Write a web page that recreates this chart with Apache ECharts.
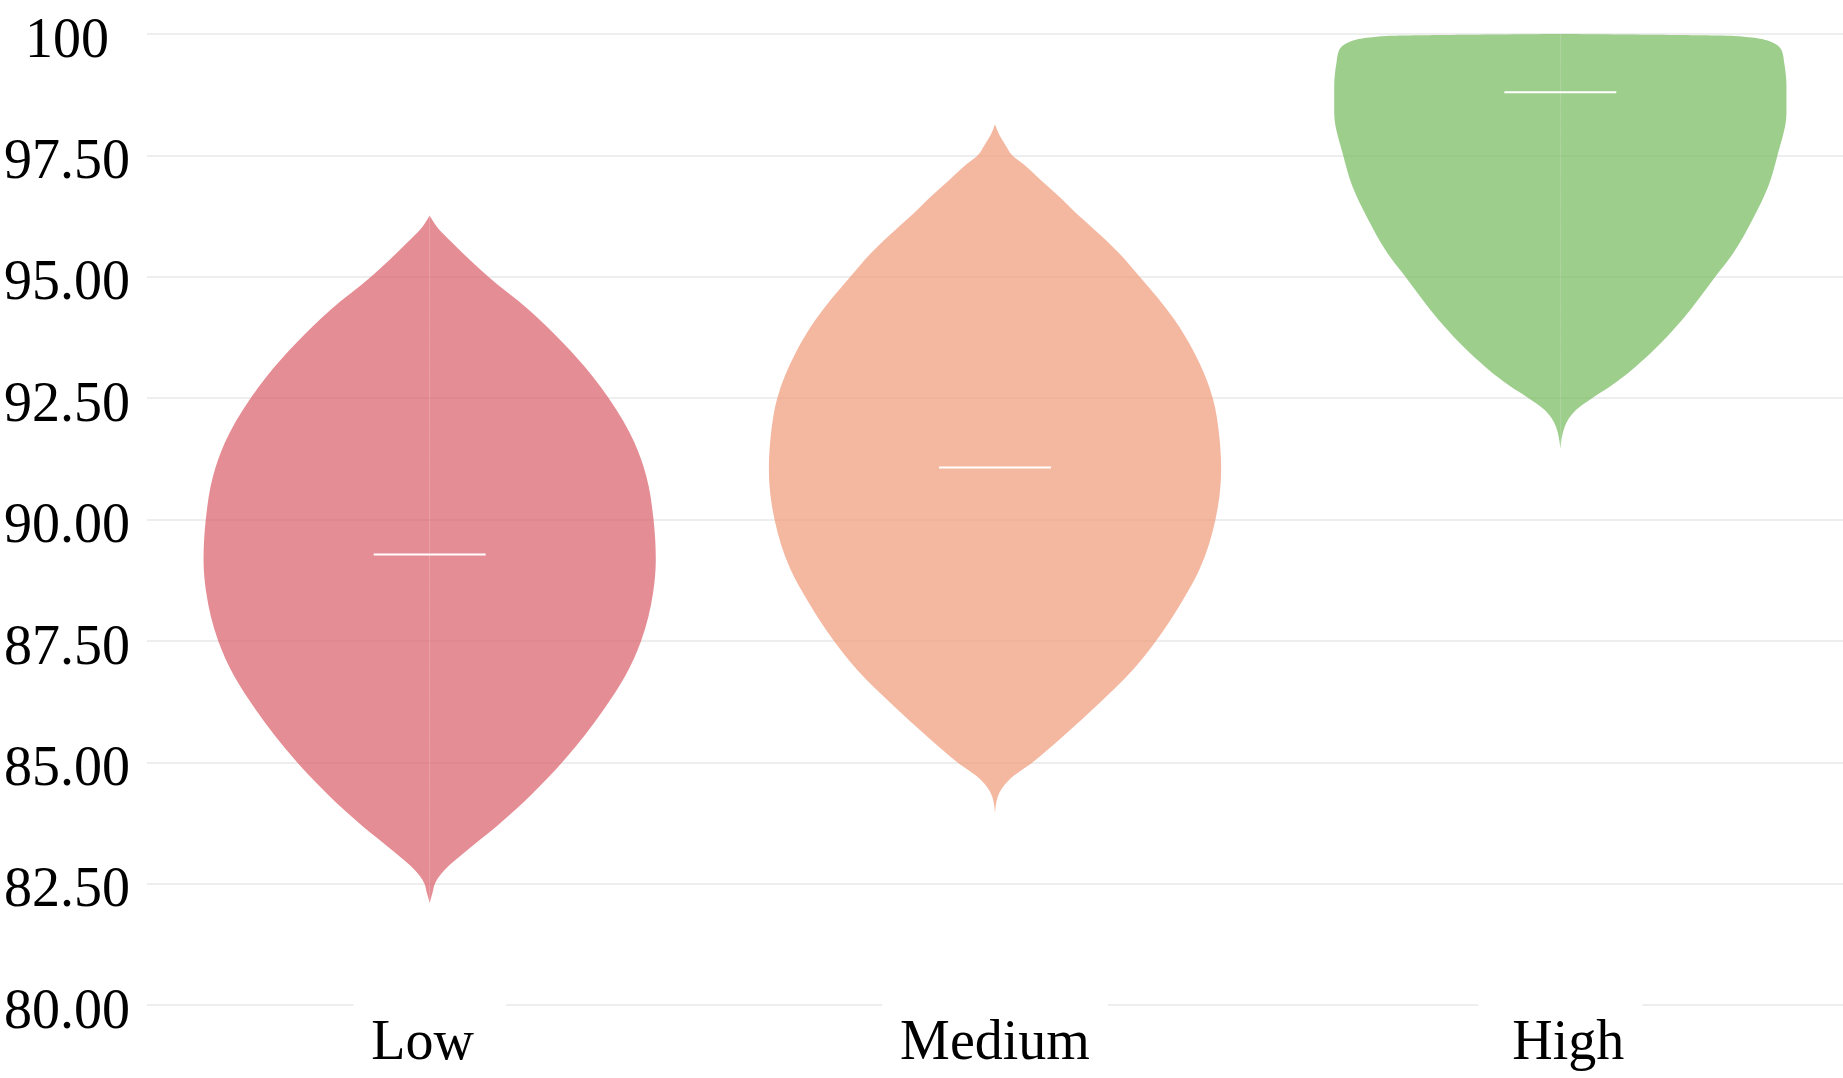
<!DOCTYPE html>
<html>
<head>
<meta charset="utf-8">
<script src="https://cdn.jsdelivr.net/npm/echarts@6/dist/echarts.min.js"></script>
<style>
html,body{margin:0;padding:0;background:#fff;}
#chart{width:1843px;height:1078px;}
</style>
</head>
<body>
<div id="chart"></div>
<script>
// ---- data ----
const categories = ['Low', 'Medium', 'High'];

// violin outlines: value (top to bottom) and relative density (max = 1)
const lowY       = [96.26, 96.04, 95.70, 95.35, 95.01, 94.32, 93.64, 92.95, 92.50, 91.58, 90.89, 90.00, 89.17, 88.49, 87.50, 86.77, 86.08, 85.05, 84.36, 83.67, 83.13, 82.78, 82.51, 82.30, 82.10];
const lowDensity = [0.00,  0.03,  0.10,  0.177, 0.257, 0.438, 0.589, 0.720, 0.792, 0.906, 0.958, 0.990, 1.00,  0.988, 0.935, 0.864, 0.769, 0.596, 0.456, 0.294, 0.151, 0.066, 0.024, 0.012, 0.00];

const mediumY       = [98.14, 97.93, 97.73, 97.50, 97.32, 96.97, 96.63, 96.28, 96.01, 95.49, 95.01, 94.12, 93.43, 92.50, 91.71, 91.03, 90.00, 88.97, 88.28, 87.50, 86.90, 86.22, 85.53, 85.00, 84.64, 84.29, 83.95];
const mediumDensity = [0.00,  0.018, 0.044, 0.077, 0.125, 0.207, 0.288, 0.365, 0.430, 0.548, 0.638, 0.793, 0.882, 0.963, 0.992, 1.00,  0.975, 0.904, 0.823, 0.712, 0.609, 0.462, 0.300, 0.167, 0.063, 0.012, 0.00];

const highY       = [100.00, 99.96, 99.86, 99.65, 99.41, 98.93, 98.38, 97.50, 96.87, 96.18, 95.49, 95.00, 94.12, 93.43, 92.74, 92.50, 92.26, 91.92, 91.45];
const highDensity = [0.00,   0.77,  0.92,  0.98,  0.99,  1.00,  1.00,  0.96,  0.92,  0.85,  0.765, 0.685, 0.54,  0.40,  0.22,  0.14,  0.07,  0.02,  0.00];

const medians = [89.28, 91.07, 98.80];

// ---- styling ----
const fills = ['rgba(218,92,102,0.7)', 'rgba(239,152,119,0.7)', 'rgba(116,185,91,0.7)'];
const profiles = [
  { y: lowY, d: lowDensity },
  { y: mediumY, d: mediumDensity },
  { y: highY, d: highDensity }
];
const FONT = "'Liberation Serif', 'Times New Roman', serif";

// monotone cubic (in screen y) outline through the profile points
function smoothPath(pts) {
  const n = pts.length, h = [], s = [], t = new Array(n);
  for (let i = 0; i < n - 1; i++) {
    h[i] = pts[i + 1][1] - pts[i][1];
    s[i] = h[i] ? (pts[i + 1][0] - pts[i][0]) / h[i] : 0;
  }
  for (let i = 1; i < n - 1; i++) {
    const p = (s[i - 1] * h[i] + s[i] * h[i - 1]) / (h[i - 1] + h[i]);
    t[i] = (Math.sign(s[i - 1]) + Math.sign(s[i])) *
      Math.min(Math.abs(s[i - 1]), Math.abs(s[i]), 0.5 * Math.abs(p)) || 0;
  }
  t[0] = (3 * s[0] - t[1]) / 2;
  t[n - 1] = (3 * s[n - 2] - t[n - 2]) / 2;
  let path = 'M' + pts[0][0] + ',' + pts[0][1];
  for (let i = 0; i < n - 1; i++) {
    const d = h[i] / 3;
    path += ' C' + (pts[i][0] + d * t[i]) + ',' + (pts[i][1] + d) + ' ' +
      (pts[i + 1][0] - d * t[i + 1]) + ',' + (pts[i + 1][1] - d) + ' ' +
      pts[i + 1][0] + ',' + pts[i + 1][1];
  }
  return path + ' Z';
}

const labelBase = { fontFamily: FONT, fontSize: 56, color: '#000' };

const chart = echarts.init(document.getElementById('chart'));
chart.setOption({
  backgroundColor: '#fff',
  animation: false,
  grid: { left: 147, right: 0, top: 34, bottom: 73, outerBoundsMode: 'none' },
  xAxis: {
    type: 'category',
    data: categories,
    axisLine: { show: false },
    axisTick: { show: false },
    splitLine: { show: false },
    axisLabel: {
      fontFamily: FONT, fontSize: 56, color: '#000',
      backgroundColor: '#fff', padding: [15, 18, 2, 18], margin: -4,
      formatter: v => (v === 'Low' ? '{l|' + v + '}' : v === 'High' ? '{h|' + v + '}' : '{m|' + v + '}'),
      rich: {
        l: Object.assign({ padding: [0, 14, 0, 0] }, labelBase),
        m: Object.assign({}, labelBase),
        h: Object.assign({ padding: [0, 0, 0, 16] }, labelBase)
      }
    }
  },
  yAxis: {
    type: 'value',
    min: 80, max: 100, interval: 2.5,
    axisLine: { show: false },
    axisTick: { show: false },
    splitLine: { show: true, lineStyle: { color: '#eeeeee', width: 2 } },
    axisLabel: {
      fontFamily: FONT, fontSize: 56, color: '#000', align: 'center', margin: 80,
      verticalAlign: 'top', lineHeight: 56, padding: [-20, 0, 0, 0],
      formatter: v => (v === 100 ? '100' : v.toFixed(2))
    }
  },
  series: [{
    type: 'custom',
    data: categories.map((c, i) => [i, medians[i]]),
    encode: { x: 0, y: 1 },
    renderItem: function (params, api) {
      const idx = api.value(0);
      const prof = profiles[idx];
      const cx = api.coord([idx, 80])[0];
      const bw = api.size([1, 0])[0];
      const maxHalf = bw * 0.4;
      const left = prof.y.map((v, i) => [cx - prof.d[i] * maxHalf, api.coord([idx, v])[1]]);
      const right = prof.y.map((v, i) => [cx + prof.d[i] * maxHalf, api.coord([idx, v])[1]]);
      const ym = api.coord([idx, api.value(1)])[1];
      const mh = bw * 0.099;
      return {
        type: 'group',
        children: [
          { type: 'path', shape: { pathData: smoothPath(left) }, style: { fill: fills[idx] } },
          { type: 'path', shape: { pathData: smoothPath(right) }, style: { fill: fills[idx] } },
          { type: 'line', shape: { x1: cx - mh, y1: ym, x2: cx + mh, y2: ym }, style: { stroke: '#fff', lineWidth: 2 } }
        ]
      };
    }
  }]
});
</script>
</body>
</html>
